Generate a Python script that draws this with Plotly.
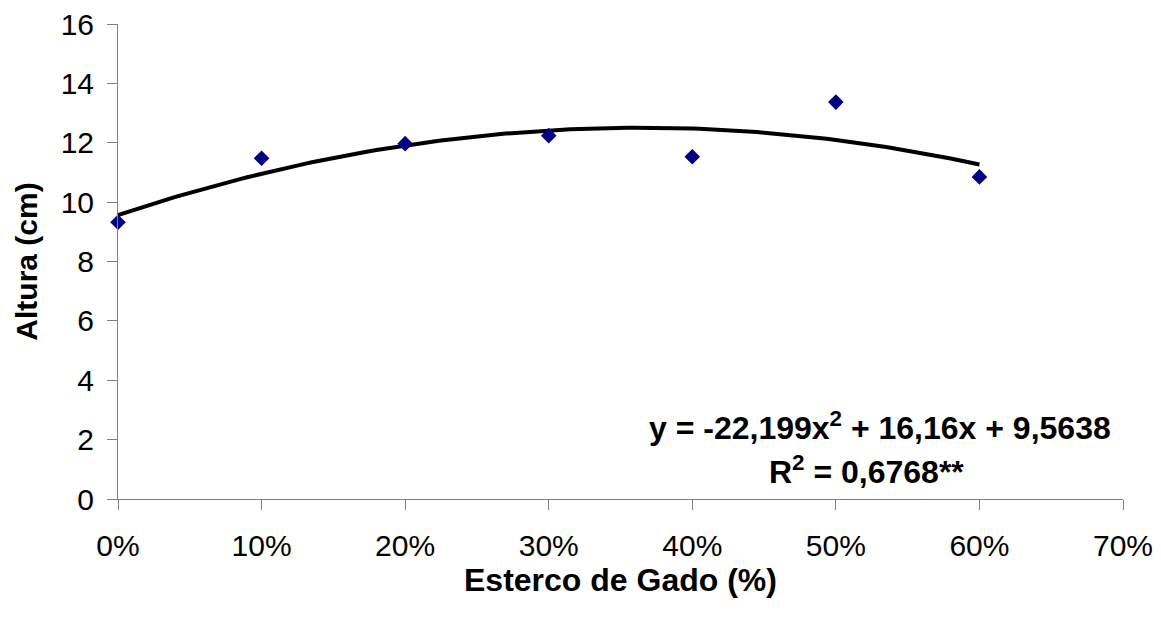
import numpy as np
import plotly.graph_objects as go

# Data
esterco = [0.0, 0.1, 0.2, 0.3, 0.4, 0.5, 0.6]          # Esterco de Gado (fraction)
altura = [9.32, 11.48, 11.97, 12.24, 11.53, 13.37, 10.85]  # Altura (cm)

# Quadratic trendline coefficients shown on the chart
coef_a, coef_b, coef_c = -22.199, 16.16, 9.5638
eq_text = "y = -22,199x<sup>2</sup> + 16,16x + 9,5638"
r2_text = "R<sup>2</sup> = 0,6768**"

x_ticks = [0, 0.1, 0.2, 0.3, 0.4, 0.5, 0.6, 0.7]
y_ticks = [0, 2, 4, 6, 8, 10, 12, 14, 16]

x_fit = np.linspace(min(esterco), max(esterco), 121)
y_fit = np.polyval([coef_a, coef_b, coef_c], x_fit)

FONT = "Liberation Sans, Arial, sans-serif"

fig = go.Figure()
fig.add_trace(go.Scatter(
    x=x_fit, y=y_fit, mode="lines",
    line=dict(color="black", width=4),
    hoverinfo="skip", showlegend=False, cliponaxis=False,
))
fig.add_trace(go.Scatter(
    x=esterco, y=altura, mode="markers",
    marker=dict(symbol="diamond", size=12, color="#000080"),
    showlegend=False, cliponaxis=False,
))

plot_l, plot_r, plot_t, plot_b = 118, 1123, 24, 499

fig.update_layout(
    width=1161, height=619, autosize=False,
    margin=dict(l=plot_l, r=1161 - plot_r, t=plot_t, b=619 - plot_b, pad=0, autoexpand=False),
    paper_bgcolor="white", plot_bgcolor="white",
    font=dict(family=FONT, color="black", size=30),
    xaxis=dict(
        range=[0, 0.7], tickvals=x_ticks, tickformat=".0%",
        showgrid=False, zeroline=False, automargin=False,
        showline=True, linecolor="#808080", linewidth=1,
        ticks="outside", ticklen=10, tickcolor="#808080",
        tickfont=dict(size=30, family=FONT),
        ticklabelstandoff=10,
        title=dict(text="<b>Esterco de Gado (%)</b>", font=dict(size=32, family=FONT), standoff=2),
    ),
    yaxis=dict(
        range=[0, 16], tickvals=y_ticks,
        showgrid=False, zeroline=False, automargin=False,
        showline=True, linecolor="#808080", linewidth=1,
        ticks="outside", ticklen=10, tickcolor="#808080",
        tickfont=dict(size=30, family=FONT),
        ticklabelstandoff=7,
        title=dict(text="<b>Altura (cm)</b>", font=dict(size=30, family=FONT), standoff=14),
    ),
)

def px_to_paper(px, py):
    return (px - plot_l) / (plot_r - plot_l), (plot_b - py) / (plot_b - plot_t)

ax1, ay1 = px_to_paper(880, 426)
ax2, ay2 = px_to_paper(866, 470)
fig.add_annotation(x=ax1, y=ay1, xref="paper", yref="paper", xanchor="center", yanchor="middle",
                   text="<b>" + eq_text + "</b>", showarrow=False, font=dict(size=32, family=FONT))
fig.add_annotation(x=ax2, y=ay2, xref="paper", yref="paper", xanchor="center", yanchor="middle",
                   text="<b>" + r2_text + "</b>", showarrow=False, font=dict(size=32, family=FONT))

fig.write_html("out.html", config={"displayModeBar": False},
               post_script="document.body.style.margin='0px';")
